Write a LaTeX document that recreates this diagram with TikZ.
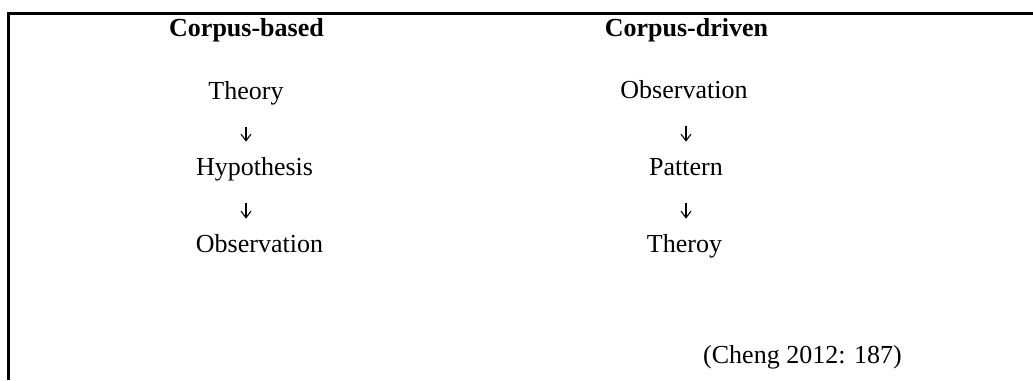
\documentclass[tikz,border=0pt]{standalone}
\usepackage{fontspec}
\setmainfont{Liberation Serif}
\usetikzlibrary{arrows.meta}

\tikzset{every picture/.style={line width=0.75pt}}
\tikzset{
  label/.style={anchor=base,inner sep=0pt,font=\fontsize{19.5}{23}\selectfont},
  heading/.style={label,font=\fontsize{19.5}{23}\selectfont\bfseries},
  flow/.style={-{Straight Barb[length=5pt,width=7.5pt]},line width=0.8pt,shorten <=21pt,shorten >=25pt}
}

\begin{document}
\begin{tikzpicture}[x=0.75pt,y=0.75pt,yscale=-1,xscale=1]
\useasboundingbox (0,0) rectangle (1033,380);

%Shape: Frame (top and left)
\draw [line width=2.25pt] (8,380) -- (8,13) -- (1033,13) ;

% Text Node
\node (basedhead) [heading] at (246.5,36) {Corpus-based};
% Text Node
\node (drivenhead) [heading] at (686.5,36) {Corpus-driven};

% Text Node
\node (theory1) [label] at (246,99) {Theory};
% Text Node
\node (hypothesis1) [label] at (254.5,175) {Hypothesis};
% Text Node
\node (observation1) [label] at (259.5,252) {Observation};

% Text Node
\node (observation2) [label] at (684,98) {Observation};
% Text Node
\node (pattern2) [label] at (686,175) {Pattern};
% Text Node
\node (theroy2) [label] at (684.5,252) {Theroy};

% Text Node
\node (cheng) [label] at (802.5,363) {(Cheng 2012: 187)};

%Arrows
\draw [flow] (theory1.base) -- (theory1.base |- hypothesis1.base) ;
\draw [flow] (theory1.base |- hypothesis1.base) -- (theory1.base |- observation1.base) ;
\draw [flow] (observation2.base -| pattern2.base) -- (pattern2.base) ;
\draw [flow] (pattern2.base) -- (pattern2.base |- theroy2.base) ;
\end{tikzpicture}
\end{document}
